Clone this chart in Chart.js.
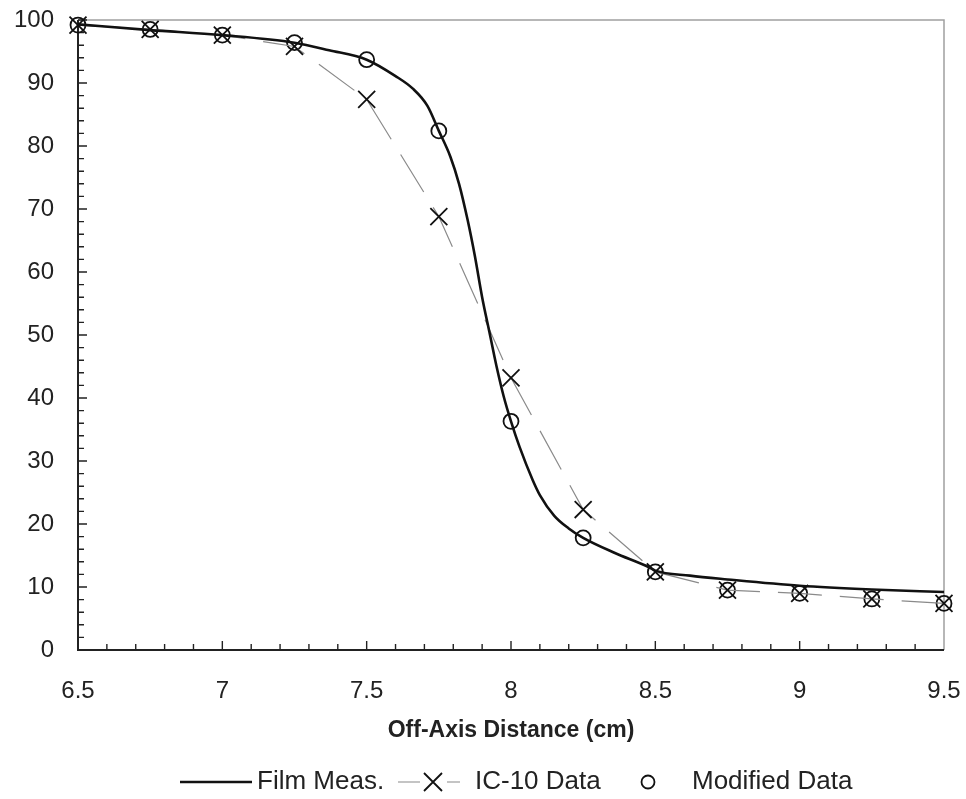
<!DOCTYPE html>
<html>
<head>
<meta charset="utf-8">
<title>Off-axis profile</title>
<script src="https://cdn.jsdelivr.net/npm/chart.js@4.4.1/dist/chart.umd.min.js"></script>
<style>
  body { margin: 0; background: #fff; }
  canvas { display: block; }
</style>
</head>
<body>
<canvas id="profile" width="966" height="799"></canvas>
<script>
// chamber positions (cm off axis) and readings
var positions = [6.5, 6.75, 7, 7.25, 7.5, 7.75, 8, 8.25, 8.5, 8.75, 9, 9.25, 9.5];
var ic10Data = [99.2, 98.5, 97.6, 95.8, 87.4, 68.8, 43.2, 22.3, 12.4, 9.5, 9.0, 8.1, 7.4];
var modifiedData = [99.2, 98.5, 97.6, 96.4, 93.7, 82.4, 36.3, 17.8, 12.4, 9.5, 9.0, 8.1, 7.4];

// film scan, sampled closer together through the penumbra
var filmX = [6.5, 6.75, 7, 7.25, 7.37, 7.5, 7.6, 7.66, 7.71, 7.75, 7.79, 7.82, 7.85, 7.875,
             7.9, 7.925, 7.95, 7.975, 8, 8.03, 8.075, 8.1, 8.15, 8.2, 8.25, 8.36, 8.48, 8.5,
             8.62, 8.75, 9, 9.25, 9.5];
var filmY = [99.3, 98.4, 97.6, 96.4, 95.2, 93.7, 91.1, 89.1, 86.4, 82.4, 78.3, 74.0, 68.2, 62.5,
             56.0, 50.5, 45.0, 40.2, 36.3, 32.2, 27.0, 24.6, 21.3, 19.3, 17.8, 15.4, 13.1, 12.6,
             11.8, 11.2, 10.2, 9.6, 9.2];

var xTicks = [6.5, 7, 7.5, 8, 8.5, 9, 9.5];
var yTicks = [0, 10, 20, 30, 40, 50, 60, 70, 80, 90, 100];

var ink = '#222';
var dashGrey = '#8a8a8a';

function pairs(xs, ys) {
  return xs.map(function (x, i) { return { x: x, y: ys[i] }; });
}

// box, inward tick marks and the legend row underneath
var frame = {
  id: 'frame',
  beforeDatasetsDraw: function (chart) {
    var ctx = chart.ctx, a = chart.chartArea;
    var xs = chart.scales.x, ys = chart.scales.y;
    ctx.save();
    ctx.strokeStyle = '#a0a0a0';
    ctx.lineWidth = 1.5;
    ctx.beginPath();
    ctx.moveTo(a.left, a.top);
    ctx.lineTo(a.right, a.top);
    ctx.lineTo(a.right, a.bottom);
    ctx.stroke();

    ctx.strokeStyle = ink;
    ctx.lineWidth = 2;
    ctx.beginPath();
    ctx.moveTo(a.left, a.top);
    ctx.lineTo(a.left, a.bottom);
    ctx.lineTo(a.right, a.bottom);
    ctx.stroke();

    ctx.lineWidth = 1.4;
    ctx.beginPath();
    for (var i = 1; i < 30; i++) {
      var px = xs.getPixelForValue(6.5 + i * 0.1);
      var lx = i % 5 === 0 ? 9 : 6;
      ctx.moveTo(px, a.bottom);
      ctx.lineTo(px, a.bottom - lx);
    }
    for (var j = 1; j <= 50; j++) {
      var py = ys.getPixelForValue(j * 2);
      var ly = j % 5 === 0 ? 9 : 6;
      ctx.moveTo(a.left, py);
      ctx.lineTo(a.left + ly, py);
    }
    ctx.stroke();
    ctx.restore();
  },
  afterDraw: function (chart) {
    var ctx = chart.ctx;
    var y = 782;
    ctx.save();
    ctx.font = '26px "Liberation Sans", Arial, sans-serif';
    ctx.fillStyle = ink;
    ctx.textBaseline = 'middle';

    // Film Meas.
    ctx.strokeStyle = '#111';
    ctx.lineWidth = 2.6;
    ctx.beginPath();
    ctx.moveTo(180, y);
    ctx.lineTo(252, y);
    ctx.stroke();
    ctx.fillText('Film Meas.', 257, y);

    // IC-10 Data
    ctx.strokeStyle = dashGrey;
    ctx.lineWidth = 1.2;
    ctx.beginPath();
    ctx.moveTo(398, y);
    ctx.lineTo(420, y);
    ctx.moveTo(447, y);
    ctx.lineTo(460, y);
    ctx.stroke();
    ctx.strokeStyle = '#111';
    ctx.lineWidth = 1.8;
    ctx.beginPath();
    ctx.moveTo(424, y - 9);
    ctx.lineTo(442, y + 9);
    ctx.moveTo(442, y - 9);
    ctx.lineTo(424, y + 9);
    ctx.stroke();
    ctx.fillText('IC-10 Data', 475, y);

    // Modified Data
    ctx.beginPath();
    ctx.arc(648, y, 6.5, 0, Math.PI * 2);
    ctx.stroke();
    ctx.fillText('Modified Data', 692, y);
    ctx.restore();
  }
};

Chart.defaults.font.family = '"Liberation Sans", Arial, sans-serif';
Chart.defaults.color = ink;

new Chart(document.getElementById('profile'), {
  type: 'line',
  data: {
    datasets: [
      {
        label: 'Film Meas.',
        data: pairs(filmX, filmY),
        borderColor: '#111',
        borderWidth: 2.6,
        pointRadius: 0,
        cubicInterpolationMode: 'monotone',
        fill: false,
        clip: false
      },
      {
        label: 'IC-10 Data',
        data: pairs(positions, ic10Data),
        borderColor: dashGrey,
        borderWidth: 1.2,
        borderDash: [44, 18],
        tension: 0,
        pointStyle: 'crossRot',
        pointRadius: 12,
        pointBorderWidth: 1.8,
        pointBorderColor: '#111',
        pointBackgroundColor: 'rgba(0,0,0,0)',
        fill: false,
        clip: false
      },
      {
        label: 'Modified Data',
        data: pairs(positions, modifiedData),
        showLine: false,
        pointStyle: 'circle',
        pointRadius: 7.5,
        pointBorderWidth: 1.8,
        pointBorderColor: '#111',
        pointBackgroundColor: 'rgba(0,0,0,0)',
        clip: false
      }
    ]
  },
  options: {
    responsive: false,
    animation: false,
    devicePixelRatio: 1,
    layout: {
      autoPadding: false,
      padding: { top: 20, right: 22, bottom: 0, left: 0 }
    },
    plugins: {
      legend: { display: false },
      tooltip: { enabled: false }
    },
    scales: {
      x: {
        type: 'linear',
        min: 6.5,
        max: 9.5,
        afterBuildTicks: function (s) {
          s.ticks = xTicks.map(function (v) { return { value: v }; });
        },
        afterFit: function (s) {
          s.height = 149;
          s.paddingLeft = 0;
          s.paddingRight = 0;
        },
        grid: { display: false, drawTicks: false },
        border: { display: false },
        ticks: {
          font: { size: 24 },
          color: ink,
          padding: 27,
          maxRotation: 0,
          autoSkip: false,
          callback: function (v) { return String(v); }
        },
        title: {
          display: true,
          text: 'Off-Axis Distance (cm)',
          font: { size: 23, weight: 'bold' },
          color: ink,
          padding: { top: 0, bottom: 55 }
        }
      },
      y: {
        min: 0,
        max: 100,
        afterBuildTicks: function (s) {
          s.ticks = yTicks.map(function (v) { return { value: v }; });
        },
        afterFit: function (s) {
          s.width = 78;
          s.paddingTop = 0;
          s.paddingBottom = 0;
        },
        grid: { display: false, drawTicks: false },
        border: { display: false },
        ticks: {
          font: { size: 24 },
          color: ink,
          padding: 24,
          autoSkip: false
        }
      }
    }
  },
  plugins: [frame]
});
</script>
</body>
</html>
